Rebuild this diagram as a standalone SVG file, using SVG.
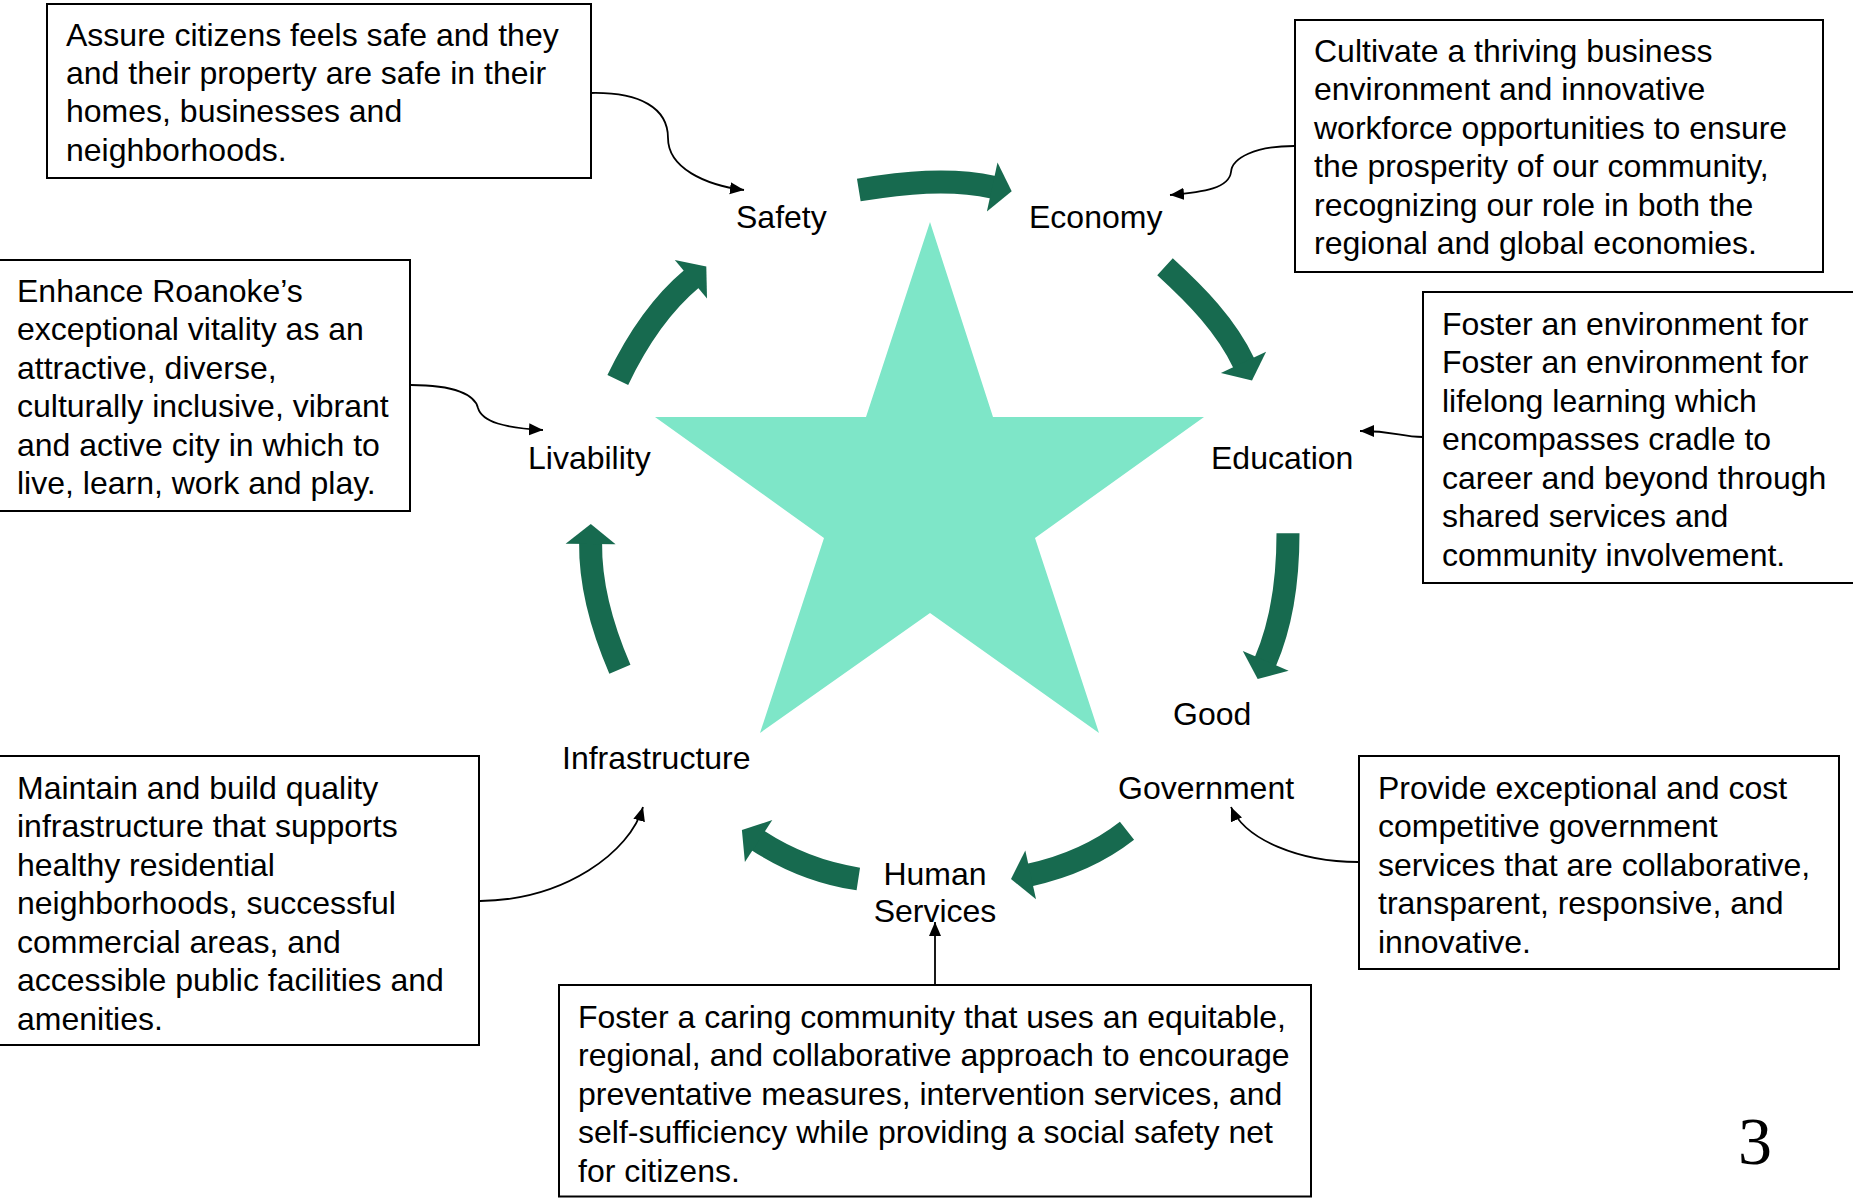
<svg xmlns="http://www.w3.org/2000/svg" width="1853" height="1198" viewBox="0 0 1853 1198">
  <defs>
    <style>
      .box { fill: #ffffff; stroke: #000000; stroke-width: 2; }
      .txt { font-family: "Liberation Sans", Arial, sans-serif; font-size: 32px; fill: #000000; }
      .lbl { font-family: "Liberation Sans", Arial, sans-serif; font-size: 32px; fill: #000000; }
      .band { fill: none; stroke: #176a4f; stroke-width: 23; stroke-linecap: butt; }
      .head { fill: #176a4f; stroke: none; }
      .conn { fill: none; stroke: #000000; stroke-width: 1.8; marker-end: url(#ah); }
    </style>
    <marker id="ah" markerUnits="userSpaceOnUse" markerWidth="16" markerHeight="13" refX="14" refY="6" orient="auto">
      <path d="M0,0 L14,6 L0,12 z" fill="#000000"/>
    </marker>
  </defs>
  <rect x="0" y="0" width="1853" height="1198" fill="#ffffff"/>

  <g id="star">
    <polygon points="930,222 993,417 1204,417 1035,538 1099,733 930,613 760,733 824,538 655,417 866,417" fill="#7ee6c8"/>
  </g>

  <g id="cycle-arrows">
    <g id="arrow-safety-economy">
      <path class="band" d="M858.8,190 C903.2,182.8 949.3,177.6 993.2,187.2"/>
      <polygon class="head" points="997.5,162.6 1011.7,191.2 986.9,211.4"/>
    </g>
    <g id="arrow-economy-education">
      <path class="band" d="M1165,266.7 C1196,295.1 1226,325.3 1243.9,363.3"/>
      <polygon class="head" points="1266.1,351.7 1252,380.5 1220.9,373.1"/>
    </g>
    <g id="arrow-education-government">
      <path class="band" d="M1288,533.3 C1288,576.8 1282.6,621.8 1265.3,661.7"/>
      <polygon class="head" points="1288.6,670.8 1257.7,679.1 1242.8,650.9"/>
    </g>
    <g id="arrow-government-human">
      <path class="band" d="M1127,830.8 C1098.6,853 1064.8,867.3 1029.6,875"/>
      <polygon class="head" points="1036,899.2 1011,879.1 1025.3,850.4"/>
    </g>
    <g id="arrow-human-infrastructure">
      <path class="band" d="M858.3,879 C822.7,873.6 788,860.2 757.8,840.5"/>
      <polygon class="head" points="744.9,862 741.9,830.1 772.3,820.1"/>
    </g>
    <g id="arrow-infrastructure-livability">
      <path class="band" d="M619.9,669.2 C602.8,629.7 590.1,586 590.6,543"/>
      <polygon class="head" points="565.6,543.7 590.8,524 615.6,544.3"/>
    </g>
    <g id="arrow-livability-safety">
      <path class="band" d="M617.8,380 C635.9,342.1 659.5,305.7 691.7,278.7"/>
      <polygon class="head" points="674.8,260.1 706.3,266.5 707,298.5"/>
    </g>
  </g>

  <g id="connectors">
    <path class="conn" d="M591,93 C640,92 668,108 668,138 C668,168 705,185 744,190"/>
    <path class="conn" d="M1294,146 C1255,146 1232,158 1231,172 C1229,188 1205,192 1170,195"/>
    <path class="conn" d="M1423,437 C1400,437 1395,431 1360,431"/>
    <path class="conn" d="M411,385 C455,385 475,395 478,408 C482,422 505,428 543,430"/>
    <path class="conn" d="M480,901 C565,900 630,852 643,807"/>
    <path class="conn" d="M1358,862 C1300,862 1245,840 1231,807"/>
    <path class="conn" d="M935,985 L935,922"/>
  </g>

  <g id="label-safety"><text class="lbl" x="736" y="227.5">Safety</text></g>
  <g id="label-economy"><text class="lbl" x="1029" y="227.5">Economy</text></g>
  <g id="label-education"><text class="lbl" x="1211" y="468.5">Education</text></g>
  <g id="label-livability"><text class="lbl" x="528" y="468.5">Livability</text></g>
  <g id="label-good-government">
    <text class="lbl" x="1173" y="724.5">Good</text>
    <text class="lbl" x="1118" y="798.5">Government</text>
  </g>
  <g id="label-infrastructure"><text class="lbl" x="562" y="769">Infrastructure</text></g>
  <g id="label-human-services">
    <text class="lbl" x="935" y="884.5" text-anchor="middle">Human</text>
    <text class="lbl" x="935" y="921.5" text-anchor="middle">Services</text>
  </g>

  <g id="box-safety">
    <rect class="box" x="47" y="4" width="544" height="174"/>
    <text class="txt">
      <tspan x="66" y="45.5">Assure citizens feels safe and they</tspan>
      <tspan x="66" y="83.9">and their property are safe in their</tspan>
      <tspan x="66" y="122.3">homes, businesses and</tspan>
      <tspan x="66" y="160.7">neighborhoods.</tspan>
    </text>
  </g>

  <g id="box-economy">
    <rect class="box" x="1295" y="20" width="528" height="252"/>
    <text class="txt">
      <tspan x="1314" y="61.5">Cultivate a thriving business</tspan>
      <tspan x="1314" y="100">environment and innovative</tspan>
      <tspan x="1314" y="138.5">workforce opportunities to ensure</tspan>
      <tspan x="1314" y="177">the prosperity of our community,</tspan>
      <tspan x="1314" y="215.5">recognizing our role in both the</tspan>
      <tspan x="1314" y="254">regional and global economies.</tspan>
    </text>
  </g>

  <g id="box-education">
    <rect class="box" x="1423" y="292" width="445" height="291"/>
    <text class="txt">
      <tspan x="1442" y="334.5">Foster an environment for</tspan>
      <tspan x="1442" y="373">Foster an environment for</tspan>
      <tspan x="1442" y="411.5">lifelong learning which</tspan>
      <tspan x="1442" y="450">encompasses cradle to</tspan>
      <tspan x="1442" y="488.5">career and beyond through</tspan>
      <tspan x="1442" y="527">shared services and</tspan>
      <tspan x="1442" y="565.5">community involvement.</tspan>
    </text>
  </g>

  <g id="box-livability">
    <rect class="box" x="-3" y="260" width="413" height="251"/>
    <text class="txt">
      <tspan x="17" y="301.5">Enhance Roanoke’s</tspan>
      <tspan x="17" y="340">exceptional vitality as an</tspan>
      <tspan x="17" y="378.5">attractive, diverse,</tspan>
      <tspan x="17" y="417">culturally inclusive, vibrant</tspan>
      <tspan x="17" y="455.5">and active city in which to</tspan>
      <tspan x="17" y="494">live, learn, work and play.</tspan>
    </text>
  </g>

  <g id="box-infrastructure">
    <rect class="box" x="-3" y="756" width="482" height="289"/>
    <text class="txt">
      <tspan x="17" y="798.5">Maintain and build quality</tspan>
      <tspan x="17" y="837">infrastructure that supports</tspan>
      <tspan x="17" y="875.5">healthy residential</tspan>
      <tspan x="17" y="914">neighborhoods, successful</tspan>
      <tspan x="17" y="952.5">commercial areas, and</tspan>
      <tspan x="17" y="991">accessible public facilities and</tspan>
      <tspan x="17" y="1029.5">amenities.</tspan>
    </text>
  </g>

  <g id="box-government">
    <rect class="box" x="1359" y="756" width="480" height="213"/>
    <text class="txt">
      <tspan x="1378" y="798.5">Provide exceptional and cost</tspan>
      <tspan x="1378" y="837">competitive government</tspan>
      <tspan x="1378" y="875.5">services that are collaborative,</tspan>
      <tspan x="1378" y="914">transparent, responsive, and</tspan>
      <tspan x="1378" y="952.5">innovative.</tspan>
    </text>
  </g>

  <g id="box-human-services">
    <rect class="box" x="559" y="985" width="752" height="211.5"/>
    <text class="txt">
      <tspan x="578" y="1027.5">Foster a caring community that uses an equitable,</tspan>
      <tspan x="578" y="1066">regional, and collaborative approach to encourage</tspan>
      <tspan x="578" y="1104.5">preventative measures, intervention services, and</tspan>
      <tspan x="578" y="1143">self-sufficiency while providing a social safety net</tspan>
      <tspan x="578" y="1181.5">for citizens.</tspan>
    </text>
  </g>

  <g id="page-number">
    <text x="1755" y="1164" text-anchor="middle" font-family="'Liberation Serif', 'Times New Roman', serif" font-size="68">3</text>
  </g>
</svg>
